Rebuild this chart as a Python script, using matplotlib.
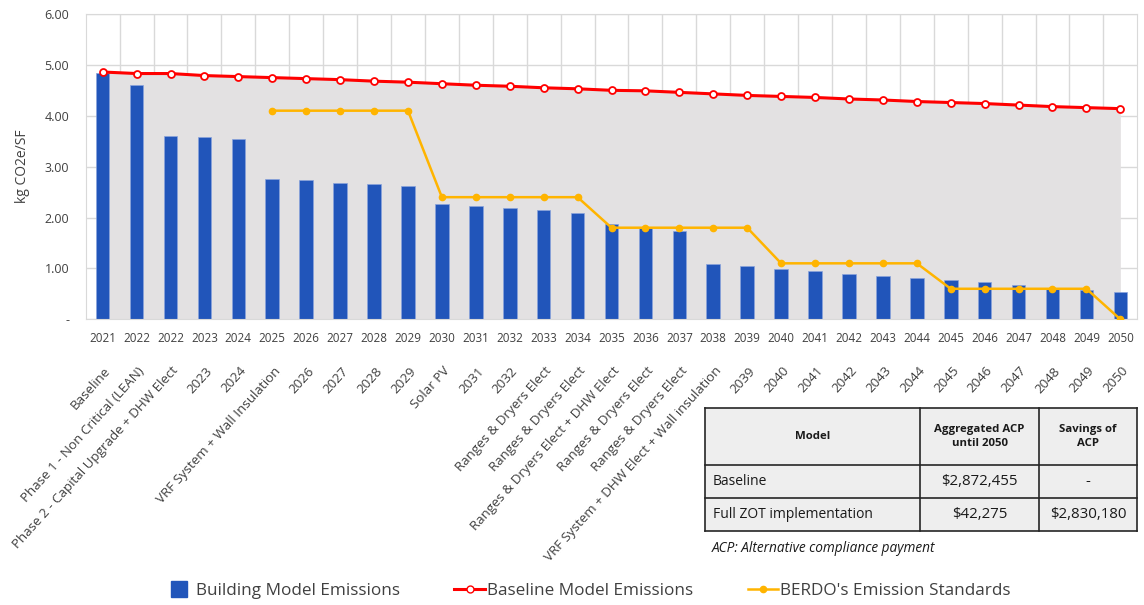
import matplotlib
matplotlib.use('Agg')
import matplotlib.pyplot as plt
from matplotlib.lines import Line2D
from matplotlib.patches import Rectangle
import numpy as np

plt.rcParams['font.family'] = ['Open Sans', 'DejaVu Sans']

# yearly emissions path, kg CO2e/SF
years = ['2021', '2022', '2022'] + [str(y) for y in range(2023, 2051)]
measures = ['Baseline', 'Phase 1 - Non Critical (LEAN)',
            'Phase 2 - Capital Upgrade + DHW Elect', '2023', '2024',
            'VRF System + Wall Insulation', '2026', '2027', '2028', '2029',
            'Solar PV', '2031', '2032',
            'Ranges & Dryers Elect', 'Ranges & Dryers Elect',
            'Ranges & Dryers Elect + DHW Elect', 'Ranges & Dryers Elect',
            'Ranges & Dryers Elect', 'VRF System + DHW Elect + Wall insulation',
            '2039', '2040', '2041', '2042', '2043', '2044', '2045', '2046',
            '2047', '2048', '2049', '2050']
building = [4.85, 4.61, 3.61, 3.58, 3.54, 2.76, 2.73, 2.68, 2.65, 2.61,
            2.26, 2.23, 2.19, 2.15, 2.09, 1.87, 1.79, 1.73, 1.09, 1.05,
            0.99, 0.95, 0.90, 0.86, 0.82, 0.77, 0.73, 0.68, 0.62, 0.58, 0.54]
baseline = [4.86, 4.83, 4.83, 4.79, 4.77, 4.75, 4.73, 4.71, 4.68, 4.66,
            4.63, 4.60, 4.58, 4.55, 4.53, 4.50, 4.49, 4.46, 4.43, 4.40,
            4.38, 4.36, 4.33, 4.31, 4.28, 4.26, 4.24, 4.21, 4.18, 4.16, 4.14]
berdo = [np.nan] * 5 + [4.10] * 5 + [2.40] * 5 + [1.80] * 5 + [1.10] * 5 + [0.60] * 5 + [0.0]

# ACP summary table
table_header = ['Model', 'Aggregated ACP\nuntil 2050', 'Savings of\nACP']
table_rows = [['Baseline', '$2,872,455', '-'],
              ['Full ZOT implementation', '$42,275', '$2,830,180']]
table_note = 'ACP: Alternative compliance payment'

W, H = 1144, 605
fig = plt.figure(figsize=(W / 100, H / 100), dpi=100)
ax = fig.add_axes([85.7 / W, (H - 319.3) / H, (1137.3 - 85.7) / W, (319.3 - 14) / H])

x = np.arange(len(years))
grid_c = '#D9D9D9'
text_c = '#404040'

ax.fill_between(x, 0, baseline, color='#E3E1E2', lw=0, zorder=1)
ax.bar(x, building, width=0.4, color='#2155BA', edgecolor='#8AA4DC', linewidth=0.5, zorder=2)
ax.plot(x, berdo, color='#FFB400', lw=1.8, marker='o', ms=4.5, zorder=3)
ax.plot(x, baseline, color='#FF0000', lw=2.2, marker='o', ms=5, mfc='white',
        mec='#FF0000', mew=1.3, zorder=4)

ax.set_xlim(-0.5, len(years) - 0.5)
ax.set_ylim(0, 6)
ax.set_yticks(range(7))
ax.set_yticklabels(['-'] + ['%.2f' % v for v in range(1, 7)], fontsize=9, color=text_c)
ax.set_xticks(x)
ax.set_xticklabels(years, fontsize=8.4, color=text_c)
ax.set_xticks(x[:-1] + 0.5, minor=True)
ax.tick_params(which='both', length=0)
ax.tick_params(axis='x', pad=9)
ax.tick_params(axis='y', pad=12)
ax.grid(axis='x', which='minor', color=grid_c, lw=1, zorder=0)
ax.grid(axis='y', which='major', color=grid_c, lw=1, zorder=0)
ax.set_axisbelow(True)
for s in ax.spines.values():
    s.set_color(grid_c)
ax.set_ylabel('kg CO2e/SF', fontsize=10, color=text_c)
ax.yaxis.set_label_coords(-0.053, 0.5)

# measure names under the year row
for i, name in enumerate(measures):
    ax.annotate(name, xy=(i, 0), xycoords=('data', 'axes fraction'),
                xytext=(1, -45), textcoords='offset pixels', rotation=48,
                ha='right', va='top', rotation_mode='anchor',
                fontsize=9.6, color=text_c)

handles = [Line2D([], [], ls='none', marker='s', ms=12, color='#2155BA'),
           Line2D([], [], color='#FF0000', lw=2.2, marker='o', ms=5, mfc='white', mec='#FF0000'),
           Line2D([], [], color='#FFB400', lw=1.8, marker='o', ms=4.5)]
fig.legend(handles, ['Building Model Emissions', 'Baseline Model Emissions',
                     "BERDO's Emission Standards"],
           loc='center', bbox_to_anchor=(0.513, (H - 591) / H), ncol=3, frameon=False,
           fontsize=12.3, handlelength=1.8, handletextpad=0.1, columnspacing=3.2,
           labelcolor=text_c)

# table drawn in pixel coordinates
tab = fig.add_axes([0, 0, 1, 1])
tab.set_xlim(0, W)
tab.set_ylim(H, 0)
tab.axis('off')
tab.patch.set_visible(False)
cols = [705, 920, 1039, 1137]
rows = [408, 465, 498, 531]
tab.add_patch(Rectangle((cols[0], rows[0]), cols[-1] - cols[0], rows[-1] - rows[0],
                        facecolor='#EEEEEE', edgecolor='none'))
for cx in cols:
    tab.plot([cx, cx], [rows[0], rows[-1]], color='#262626', lw=1.2)
for ry in rows:
    tab.plot([cols[0], cols[-1]], [ry, ry], color='#262626', lw=1.2)
for j, h in enumerate(table_header):
    tab.text((cols[j] + cols[j + 1]) / 2, (rows[0] + rows[1]) / 2, h, ha='center',
             va='center', fontsize=8.2, fontweight='bold', color='#1A1A1A', linespacing=1.3)
for r, row in enumerate(table_rows):
    yc = (rows[r + 1] + rows[r + 2]) / 2
    tab.text(cols[0] + 8, yc, row[0], ha='left', va='center', fontsize=10, color='#1A1A1A')
    for j in (1, 2):
        tab.text((cols[j] + cols[j + 1]) / 2, yc, row[j], ha='center', va='center',
                 fontsize=10.8, color='#1A1A1A')
tab.text(cols[0] + 7, 548, table_note, ha='left', va='center', fontsize=9.8,
         style='italic', color='#1A1A1A')

fig.savefig('out.png', dpi=100)
